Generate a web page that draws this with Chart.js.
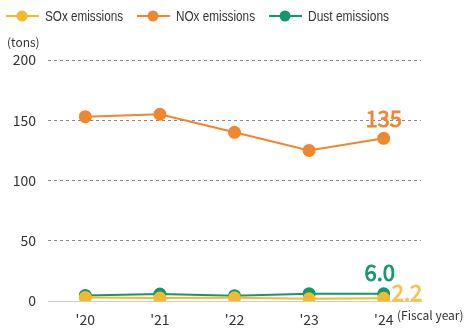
<!DOCTYPE html>
<html>
<head>
<meta charset="utf-8">
<script src="https://cdn.jsdelivr.net/npm/chart.js@4"></script>
<style>
  html, body { margin: 0; padding: 0; background: #fff; }
  #wrap { width: 469px; height: 333px; }
</style>
</head>
<body>
<div id="wrap"><canvas id="myChart" width="469" height="333"></canvas></div>
<script>
const years = ["'20", "'21", "'22", "'23", "'24"];
const soxValues = [3.0, 2.5, 2.6, 1.8, 2.2];
const noxValues = [153, 155, 140, 125, 135];
const dustValues = [4.6, 5.8, 4.4, 6.1, 6.0];
const yTicks = [0, 50, 100, 150, 200];

const SOX = '#f6b92b';
const NOX = '#ef8630';
const DUST = '#13976b';
const FONT = '"Noto Sans CJK JP", "Noto Sans", sans-serif';
const LEGEND_FONT = '"Liberation Sans", Arial, sans-serif';

const ch = document.getElementById('myChart').getContext('2d');

function series(label, values, color, order) {
    return {
        label: label,
        data: values,
        borderColor: color,
        backgroundColor: color,
        pointBackgroundColor: color,
        pointBorderColor: color,
        pointRadius: 5.5,
        pointHoverRadius: 5.5,
        borderWidth: 2,
        tension: 0,
        order: order
    };
}

// value label with a slightly heavier stroke
function valueText(c, text, x, y, color, w) {
    c.fillStyle = color;
    c.strokeStyle = color;
    c.lineWidth = 0.8;
    c.fillText(text, x, y, w);
    c.strokeText(text, x, y, w);
}

// legend, unit captions and end-of-line value labels
const extras = {
    id: 'extras',
    afterDraw(chart) {
        const c = chart.ctx;
        c.save();
        const items = [
            { x: 6, w: 78, text: 'SOx emissions', color: SOX },
            { x: 137, w: 79, text: 'NOx emissions', color: NOX },
            { x: 269, w: 81, text: 'Dust emissions', color: DUST }
        ];
        c.font = '14px ' + LEGEND_FONT;
        c.textBaseline = 'middle';
        items.forEach(it => {
            c.strokeStyle = it.color;
            c.lineWidth = 2;
            c.beginPath();
            c.moveTo(it.x, 16);
            c.lineTo(it.x + 33, 16);
            c.stroke();
            c.fillStyle = it.color;
            c.beginPath();
            c.arc(it.x + 16, 16, 5.5, 0, Math.PI * 2);
            c.fill();
            c.fillStyle = '#333';
            c.textAlign = 'left';
            c.fillText(it.text, it.x + 39, 17, it.w);
        });

        c.fillStyle = '#333';
        c.font = '12px ' + FONT;
        c.fillText('(tons)', 7, 42);
        c.font = '12px ' + FONT;
        c.fillText('(Fiscal year)', 397, 315, 69);

        const x = chart.scales.x, y = chart.scales.y;
        const last = years.length - 1;
        const px = x.getPixelForValue(last);
        c.font = '22px ' + FONT;
        c.textBaseline = 'alphabetic';
        c.textAlign = 'center';
        valueText(c, String(noxValues[last]), px, y.getPixelForValue(noxValues[last]) - 11, NOX, 38);
        valueText(c, dustValues[last].toFixed(1), px - 4, y.getPixelForValue(dustValues[last]) - 13, DUST, 32);
        c.textAlign = 'left';
        valueText(c, soxValues[last].toFixed(1), px + 8, y.getPixelForValue(soxValues[last]) + 2.5, '#f7c24e', 32);
        c.restore();
    }
};

const config = {
    type: 'line',
    data: {
        labels: years,
        datasets: [
            series('SOx emissions', soxValues, SOX, 1),
            series('NOx emissions', noxValues, NOX, 3),
            series('Dust emissions', dustValues, DUST, 2)
        ]
    },
    options: {
        responsive: false,
        animation: false,
        layout: { padding: { top: 60, right: 48, left: 0, bottom: 0 } },
        plugins: {
            legend: { display: false },
            tooltip: { enabled: false }
        },
        scales: {
            x: {
                offset: true,
                grid: { display: false },
                border: { display: true, color: '#cccccc', width: 1 },
                ticks: { color: '#333', font: { family: FONT, size: 14 }, padding: 2 },
                afterFit(scale) { scale.height = 32; }
            },
            y: {
                min: 0,
                max: 200,
                afterBuildTicks(scale) { scale.ticks = yTicks.map(v => ({ value: v })); },
                grid: {
                    drawTicks: false,
                    color: ctx => ctx.tick && ctx.tick.value === 0 ? 'rgba(0,0,0,0)' : '#8a8a8a',
                    lineWidth: 1
                },
                border: { display: false, dash: [3, 3] },
                ticks: { color: '#333', font: { family: FONT, size: 14 }, padding: 12 },
                afterFit(scale) { scale.width = 48; }
            }
        }
    },
    plugins: [extras]
};

const myChart = new Chart(ch, config);
</script>
</body>
</html>
